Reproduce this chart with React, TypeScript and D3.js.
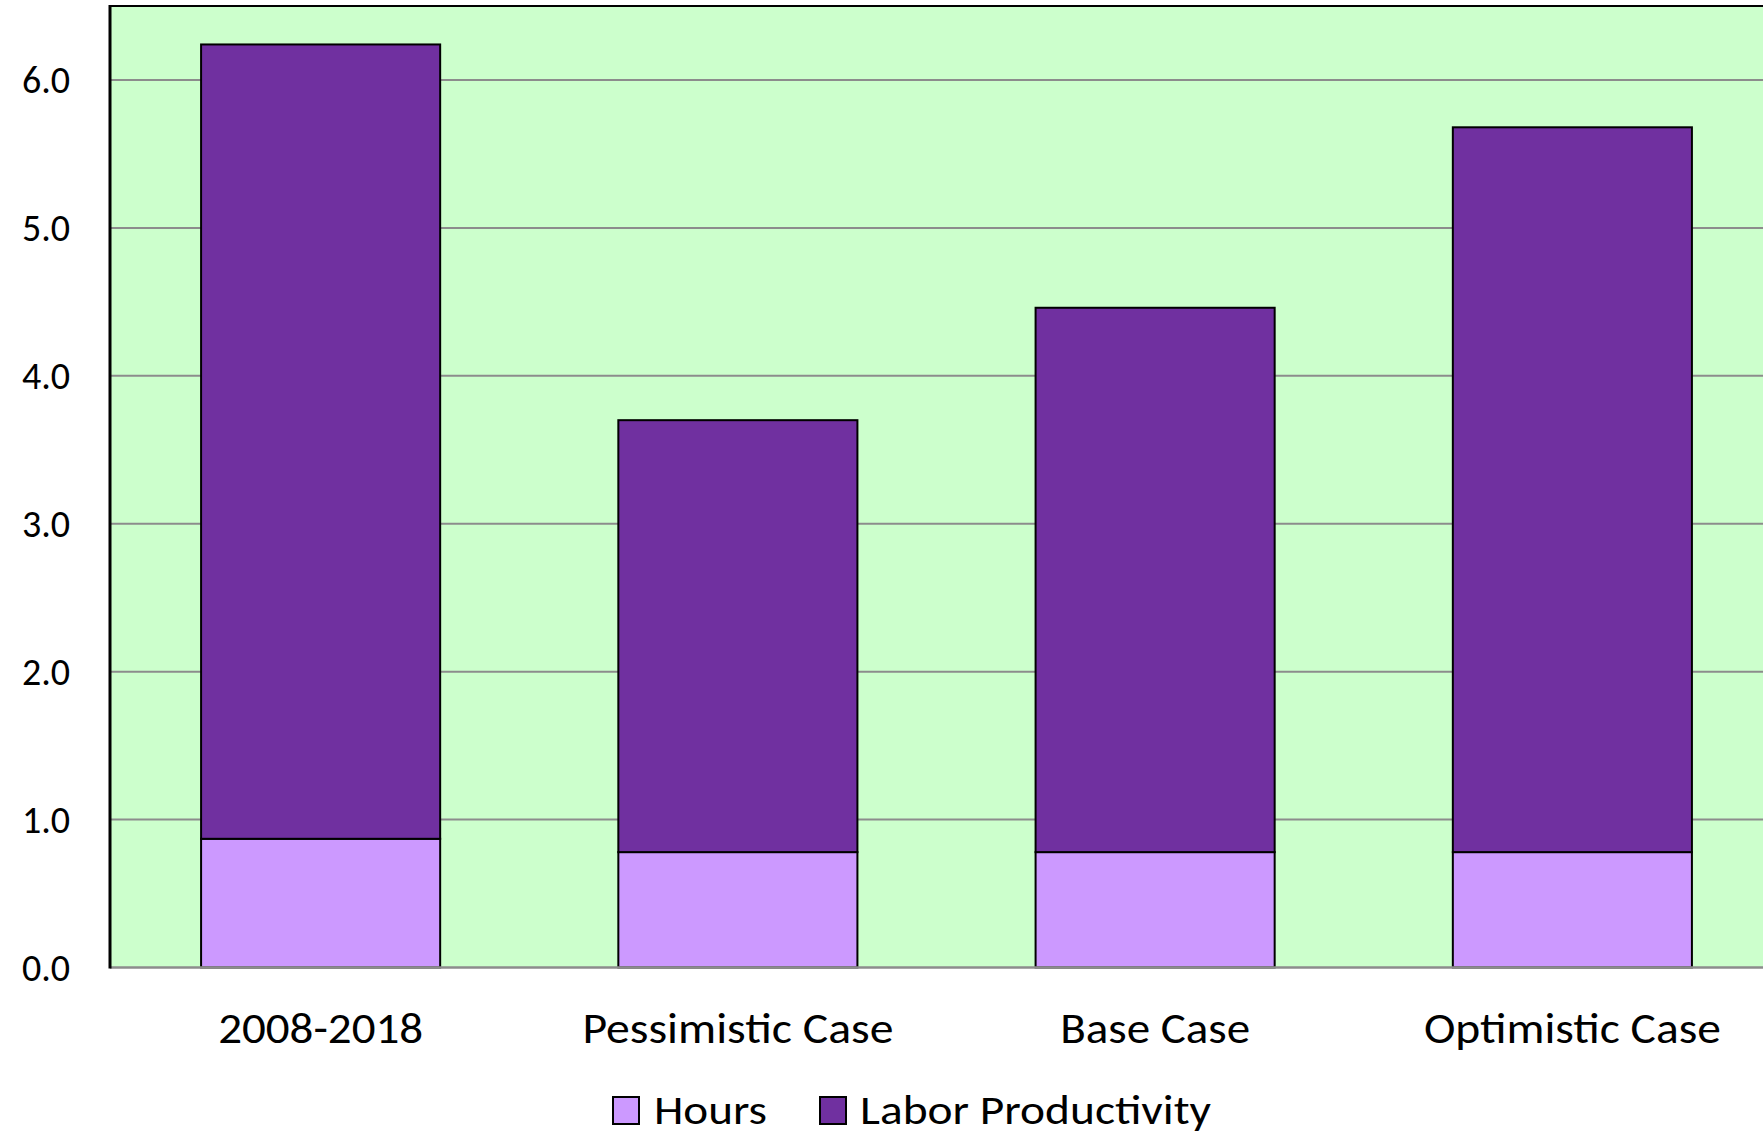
import React from "react";
import * as d3 from "d3";

const categories = ["2008-2018", "Pessimistic Case", "Base Case", "Optimistic Case"];
const hours = [0.87, 0.78, 0.78, 0.78];
const laborProductivity = [5.37, 2.92, 3.68, 4.9];
const yTicks = [0, 1, 2, 3, 4, 5, 6];
const seriesNames = ["Hours", "Labor Productivity"];
const seriesColors = ["#CC99FF", "#7030A0"];
const categoryLabelWidths = [205, 311, 190, 297];
const legendLabelWidths = [113, 351];

const W = 1763;
const H = 1131;
const plotLeft = 110;
const plotRight = 1779;
const plotTop = 6;
const plotBottom = 967.5;
const FONT = "Carlito, Calibri, Lato, 'Open Sans', sans-serif";

export default function App() {
  const x = d3
    .scaleBand<string>()
    .domain(categories)
    .range([plotLeft + 2, plotRight + 2])
    .paddingInner(0.427)
    .paddingOuter(0.2135);
  const y = d3.scaleLinear().domain([0, 6.5]).range([plotBottom, plotTop]);

  const stackData = categories.map((c, i) => ({
    cat: c,
    Hours: hours[i],
    "Labor Productivity": laborProductivity[i],
  }));
  const stack = d3.stack<any>().keys(seriesNames)(stackData);

  const legendItems = [
    { rx: 613, tx: 654 },
    { rx: 820, tx: 860 },
  ];

  return (
    <svg
      width={W}
      height={H}
      style={{ position: "absolute", left: 0, top: 0, display: "block", background: "#fff" }}
    >
      <rect
        x={plotLeft}
        y={plotTop}
        width={plotRight - plotLeft}
        height={plotBottom - plotTop}
        fill="#CCFFCC"
      />
      {yTicks
        .filter((t) => t > 0)
        .map((t) => (
          <line
            key={t}
            x1={plotLeft}
            x2={plotRight}
            y1={y(t)}
            y2={y(t)}
            stroke="#8C8C8C"
            strokeWidth={2}
          />
        ))}
      {stack.map((layer, si) =>
        layer.map((d, i) => (
          <rect
            key={`${si}-${i}`}
            x={x(categories[i])!}
            y={y(d[1])}
            width={x.bandwidth()}
            height={y(d[0]) - y(d[1])}
            fill={seriesColors[si]}
            stroke="#000"
            strokeWidth={2}
          />
        ))
      )}
      <line x1={plotLeft} x2={plotRight} y1={plotTop} y2={plotTop} stroke="#000" strokeWidth={2} />
      <line x1={plotLeft} x2={plotRight} y1={plotBottom} y2={plotBottom} stroke="#8C8C8C" strokeWidth={2.5} />
      <line x1={plotLeft} x2={plotLeft} y1={plotTop - 1} y2={plotBottom + 1} stroke="#000" strokeWidth={3} />
      {yTicks.map((t) => (
        <text
          key={t}
          x={70}
          y={y(t) + 13}
          textAnchor="end"
          fontFamily={FONT}
          fontSize={38}
          fill="#000"
        >
          {t.toFixed(1)}
        </text>
      ))}
      {categories.map((c, i) => (
        <text
          key={c}
          x={x(c)! + x.bandwidth() / 2}
          y={1043}
          textAnchor="middle"
          fontFamily={FONT}
          fontSize={43}
          fill="#000"
          textLength={categoryLabelWidths[i]}
          lengthAdjust="spacingAndGlyphs"
        >
          {c}
        </text>
      ))}
      {seriesNames.map((s, i) => (
        <g key={s}>
          <rect
            x={legendItems[i].rx}
            y={1097}
            width={26}
            height={27}
            fill={seriesColors[i]}
            stroke="#000"
            strokeWidth={2}
          />
          <text
            x={legendItems[i].tx}
            y={1124}
            fontFamily={FONT}
            fontSize={42}
            fill="#000"
            textLength={legendLabelWidths[i]}
            lengthAdjust="spacingAndGlyphs"
          >
            {s}
          </text>
        </g>
      ))}
    </svg>
  );
}
